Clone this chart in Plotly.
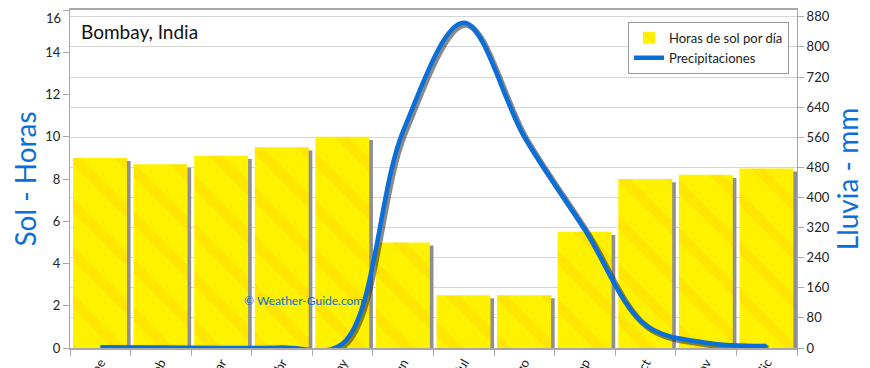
import plotly.graph_objects as go

months = ["ene", "feb", "mar", "abr", "may", "jun", "jul", "ago", "sep", "oct", "nov", "dic"]
sun_hours = [9.0, 8.7, 9.1, 9.5, 10.0, 5.0, 2.5, 2.5, 5.5, 8.0, 8.2, 8.5]
rain_mm = [2, 1, 0, 1, 12, 577, 864, 561, 314, 61, 14, 5]
sun_ticks = [0, 2, 4, 6, 8, 10, 12, 14, 16]
rain_ticks = list(range(0, 881, 80))

xs = list(range(len(months)))
blue = "#0a6fd8"
font = "Lato"

fig = go.Figure()

# bar shadows
fig.add_trace(go.Bar(
    x=xs, y=[v - 0.15 for v in sun_hours], width=0.9, offset=-0.40,
    marker=dict(color="#8f8f8f", line=dict(width=0)),
    showlegend=False, hoverinfo="skip", yaxis="y"))
# bars
fig.add_trace(go.Bar(
    x=xs, y=sun_hours, width=0.89, offset=-0.45,
    name="Horas de sol por día",
    marker=dict(color="#FFF200", line=dict(width=0),
                pattern=dict(shape="\\", fgcolor="#FFB000", fgopacity=0.18,
                             size=34, solidity=0.3)),
    yaxis="y"))
# line shadow
fig.add_trace(go.Scatter(
    x=[x + 0.03 for x in xs], y=[v - 5 for v in rain_mm], mode="lines",
    line=dict(color="rgba(40,40,40,0.55)", width=6, shape="spline", smoothing=1.0),
    showlegend=False, hoverinfo="skip", yaxis="y2"))
fig.add_trace(go.Scatter(
    x=xs, y=rain_mm, mode="lines", name="Precipitaciones",
    line=dict(color=blue, width=4.5, shape="spline", smoothing=1.0),
    yaxis="y2"))

# top label of the left axis is drawn as an annotation so it is not clipped
sun_ticktext = [str(v) for v in sun_ticks[:-1]] + [""]

fig.update_layout(
    width=862, height=360,
    margin=dict(l=62, r=73, t=2, b=20, autoexpand=False),
    paper_bgcolor="white", plot_bgcolor="white",
    barmode="overlay",
    font=dict(family=font, size=13, color="#222"),
    xaxis=dict(
        range=[-0.5, 11.5], tickmode="array", tickvals=xs, ticktext=months,
        tickangle=-60, ticks="", showgrid=False, zeroline=False, automargin=False,
        ticklabeloverflow="allow",
        showline=True, linecolor="#a8a8a8", linewidth=2, mirror=True,
        minor=dict(tick0=0.5, dtick=1, ticks="outside", ticklen=6, tickcolor="#a8a8a8"),
        tickfont=dict(size=13, color="#222"),
    ),
    yaxis=dict(
        range=[0, 16], tickmode="array", tickvals=sun_ticks, ticktext=sun_ticktext,
        ticks="outside", ticklen=6, tickcolor="#a8a8a8", automargin=False,
        showgrid=False, zeroline=False,
        showline=True, linecolor="#a8a8a8", linewidth=1,
        title=dict(text="Sol - Horas", font=dict(size=28, color=blue), standoff=14),
        tickfont=dict(size=13, color="#222"),
    ),
    yaxis2=dict(
        range=[0, 898], tickvals=rain_ticks,
        overlaying="y", side="right", automargin=False,
        ticks="outside", ticklen=6, tickcolor="#a8a8a8",
        showgrid=True, gridcolor="#d6d6d6", gridwidth=1, zeroline=False,
        showline=True, linecolor="#a8a8a8", linewidth=1,
        title=dict(text="Lluvia - mm", font=dict(size=28, color=blue), standoff=4),
        tickfont=dict(size=13, color="#222"),
    ),
    legend=dict(
        x=0.7675, y=0.965, xanchor="left", yanchor="top",
        bgcolor="white", bordercolor="#9a9a9a", borderwidth=1,
        font=dict(size=13, color="#222"), traceorder="normal",
        itemwidth=30, tracegroupgap=4,
    ),
    annotations=[
        dict(text="Bombay, India", xref="paper", yref="paper", x=0.012, y=0.935,
             xanchor="left", yanchor="middle", showarrow=False,
             font=dict(size=19, color="#111", family=font)),
        dict(text="© Weather-Guide.com", xref="x", yref="y", x=3.35, y=2.25,
             xanchor="center", yanchor="middle", showarrow=False,
             font=dict(size=12, color=blue, family=font)),
        dict(text=str(sun_ticks[-1]), xref="paper", yref="paper", x=0, y=1,
             xanchor="right", yanchor="top", xshift=-7, yshift=2, showarrow=False,
             font=dict(size=13, color="#222", family=font)),
    ],
)

fig.write_html("out.html")
